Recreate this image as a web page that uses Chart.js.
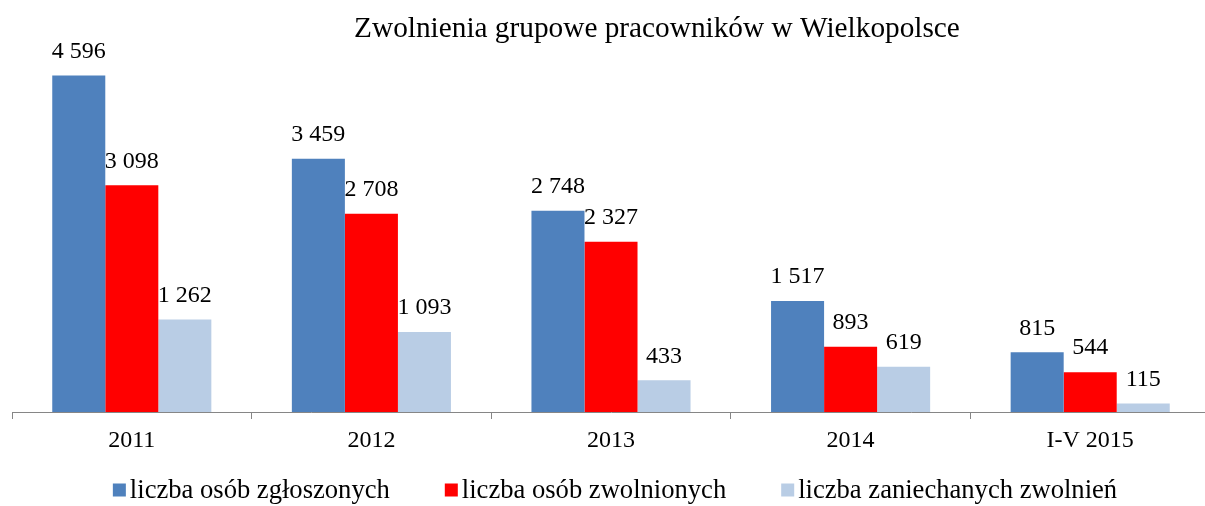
<!DOCTYPE html>
<html>
<head>
<meta charset="utf-8">
<script src="https://cdn.jsdelivr.net/npm/chart.js@4/dist/chart.umd.min.js"></script>
<style>
  html, body { margin: 0; padding: 0; overflow: hidden; background: #fff; }
  #wrap { width: 1212px; height: 506px; }
</style>
</head>
<body>
<div id="wrap"><canvas id="js--chart--1"></canvas></div>
<script>
const labels = ["2011", "2012", "2013", "2014", "I-V 2015"];

const zgloszonych = [4596, 3459, 2748, 1517, 815];
const zwolnionych = [3098, 2708, 2327, 893, 544];
const zaniechanych = [1262, 1093, 433, 619, 115];

const title = "Zwolnienia grupowe pracowników w Wielkopolsce";
const serif = "'Liberation Serif', 'Times New Roman', serif";

// 4596 -> "4 596"
function fmt(v) {
    return String(v).replace(/\B(?=(\d{3})+(?!\d))/g, " ");
}

const data = {
    labels: labels,
    datasets: [
        { label: "liczba osób zgłoszonych", data: zgloszonych, backgroundColor: "#4F81BD" },
        { label: "liczba osób zwolnionych", data: zwolnionych, backgroundColor: "#FF0000" },
        { label: "liczba zaniechanych zwolnień", data: zaniechanych, backgroundColor: "#B9CDE5" },
    ]
};

// value labels, title and the legend row (Excel style)
const extras = {
    id: "extras",
    afterDatasetsDraw(chart) {
        const ctx = chart.ctx;
        ctx.save();
        ctx.fillStyle = "#000";
        ctx.textAlign = "center";
        ctx.textBaseline = "middle";
        ctx.font = "24px " + serif;
        chart.data.datasets.forEach((ds, i) => {
            chart.getDatasetMeta(i).data.forEach((bar, j) => {
                ctx.fillText(fmt(ds.data[j]), bar.x, bar.y - 24);
            });
        });

        ctx.font = "29.3px " + serif;
        ctx.fillText(title, 657, 29);

        // legend
        ctx.font = "26.6px " + serif;
        ctx.textAlign = "left";
        const box = 13, gap = 4, space = 55, y = 490;
        const items = chart.data.datasets.map(ds => ({
            text: ds.label, color: ds.backgroundColor, w: ctx.measureText(ds.label).width
        }));
        let total = 0;
        items.forEach((it, i) => { total += box + gap + it.w + (i ? space : 0); });
        let x = 615 - total / 2;
        items.forEach(it => {
            ctx.fillStyle = it.color;
            ctx.fillRect(x, y - box / 2, box, box);
            ctx.fillStyle = "#000";
            ctx.fillText(it.text, x + box + gap, y + 1);
            x += box + gap + it.w + space;
        });
        ctx.restore();
    }
};

const config = {
    type: "bar",
    data: data,
    plugins: [extras],
    options: {
        responsive: true,
        maintainAspectRatio: false,
        animation: false,
        layout: { padding: { top: 46, left: 12, right: 2, bottom: 0 } },
        datasets: { bar: { categoryPercentage: 0.664, barPercentage: 1.0 } },
        scales: {
            x: {
                grid: { drawOnChartArea: false, color: "#868686", tickLength: 7 },
                border: { color: "#868686" },
                ticks: { color: "#000", font: { family: serif, size: 24 }, padding: 7 },
                afterFit(scale) { scale.height = 94; }
            },
            y: { display: false, min: 0, max: 5000 }
        },
        plugins: {
            tooltip: { enabled: false },
            legend: { display: false }
        }
    }
};

Chart.defaults.font.family = serif;
new Chart(document.getElementById("js--chart--1"), config);
</script>
</body>
</html>
